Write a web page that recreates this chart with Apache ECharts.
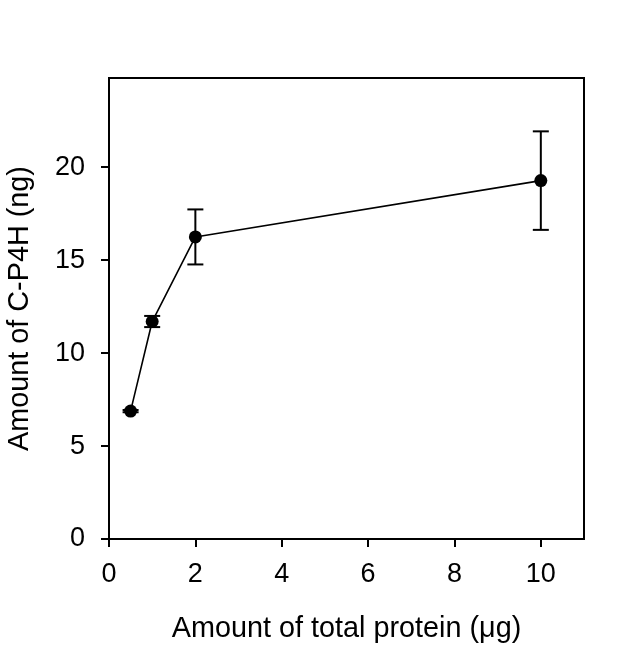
<!DOCTYPE html>
<html>
<head>
<meta charset="utf-8">
<script src="https://cdn.jsdelivr.net/npm/echarts@6/dist/echarts.min.js"></script>
<style>
html,body{margin:0;padding:0;background:#fff;}
#chart{width:624px;height:650px;}
</style>
</head>
<body>
<div id="chart"></div>
<script>
// Data
var proteinAmounts = [0.5, 1, 2, 10];
var cp4hMeans = [6.88, 11.7, 16.25, 19.28];
var cp4hErrors = [0.06, 0.3, 1.48, 2.65];
var xTicks = [0, 2, 4, 6, 8, 10];
var yTicks = [0, 5, 10, 15, 20];
var xTitle = 'Amount of total protein (\u03bcg)';
var yTitle = 'Amount of C-P4H (ng)';

var lineData = proteinAmounts.map(function (x, i) { return [x, cp4hMeans[i]]; });
var errData = proteinAmounts.map(function (x, i) {
  return [x, cp4hMeans[i] - cp4hErrors[i], cp4hMeans[i] + cp4hErrors[i]];
});

var font = 'Liberation Sans, Arial, sans-serif';
var chart = echarts.init(document.getElementById('chart'), null, { renderer: 'canvas' });
chart.setOption({
  animation: false,
  backgroundColor: '#fff',
  grid: {
    left: 109, right: 40, top: 78, bottom: 111,
    show: true, borderColor: '#000', borderWidth: 2, backgroundColor: 'transparent',
    containLabel: false, outerBoundsMode: 'none'
  },
  xAxis: {
    type: 'value', min: 0, max: 11, interval: 2,
    name: xTitle, nameLocation: 'middle', nameGap: 76,
    nameTextStyle: { fontFamily: font, fontSize: 28.8, color: '#000' },
    axisLine: { show: true, lineStyle: { color: '#000', width: 2 } },
    axisTick: { show: true, length: 8, lineStyle: { color: '#000', width: 2 }, customValues: xTicks },
    axisLabel: { fontFamily: font, fontSize: 27, color: '#000', margin: 22, customValues: xTicks },
    splitLine: { show: false }
  },
  yAxis: {
    type: 'value', min: 0, max: 24.8, interval: 5,
    name: yTitle, nameLocation: 'middle', nameGap: 74,
    nameTextStyle: { fontFamily: font, fontSize: 28.8, color: '#000' },
    axisLine: { show: true, lineStyle: { color: '#000', width: 2 } },
    axisTick: { show: true, length: 8, lineStyle: { color: '#000', width: 2 }, customValues: yTicks },
    axisLabel: { fontFamily: font, fontSize: 27, color: '#000', margin: 24, customValues: yTicks },
    splitLine: { show: false }
  },
  series: [
    {
      type: 'custom',
      data: errData,
      z: 3,
      renderItem: function (params, api) {
        var x = api.value(0);
        var lo = api.coord([x, api.value(1)]);
        var hi = api.coord([x, api.value(2)]);
        var hw = 8;
        var style = { stroke: '#000', lineWidth: 2 };
        return {
          type: 'group',
          children: [
            { type: 'line', shape: { x1: lo[0], y1: lo[1], x2: hi[0], y2: hi[1] }, style: style },
            { type: 'line', shape: { x1: hi[0] - hw, y1: hi[1], x2: hi[0] + hw, y2: hi[1] }, style: style },
            { type: 'line', shape: { x1: lo[0] - hw, y1: lo[1], x2: lo[0] + hw, y2: lo[1] }, style: style }
          ]
        };
      }
    },
    {
      type: 'line',
      data: lineData,
      z: 4,
      symbol: 'circle',
      symbolSize: 13,
      lineStyle: { color: '#000', width: 1.6 },
      itemStyle: { color: '#000' }
    }
  ]
});
</script>
</body>
</html>
